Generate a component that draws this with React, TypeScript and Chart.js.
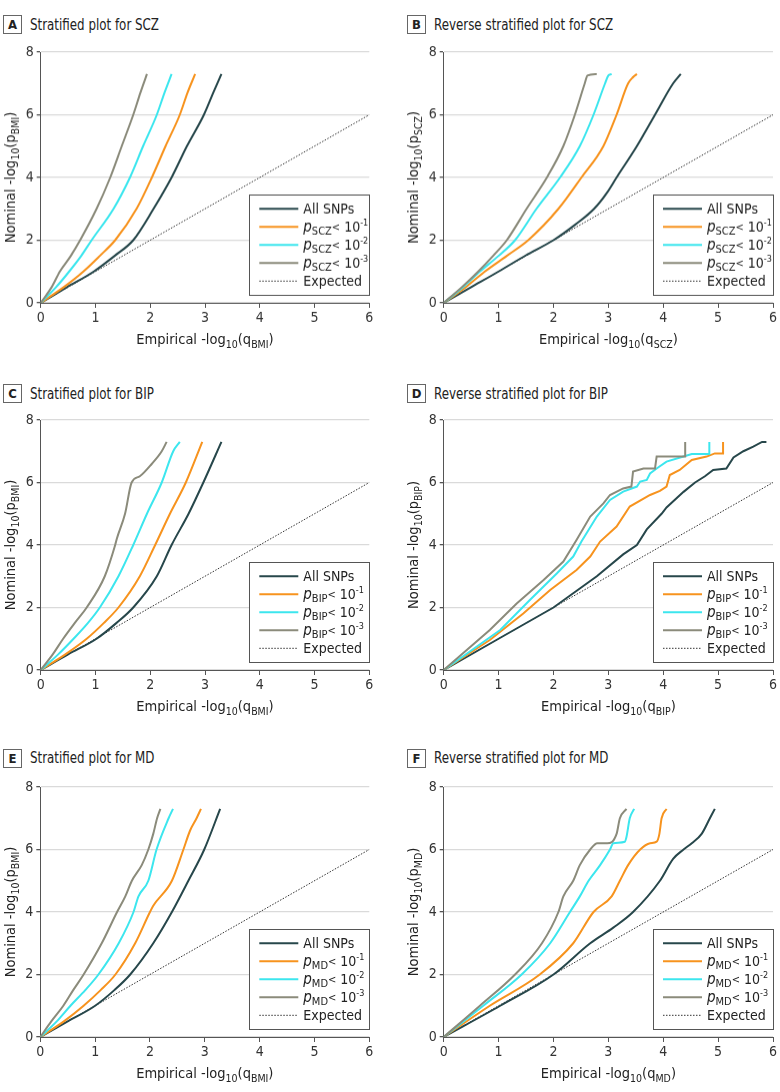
import React, { useEffect, useRef } from "react";
import { Chart, registerables } from "chart.js";

Chart.register(...registerables);

const FONT = "'Liberation Sans Narrow', 'DejaVu Sans Condensed', Lato, 'Noto Sans', sans-serif";

// ---------- data: [empirical -log10(q), nominal -log10(p)] ----------
type Pt = [number, number];

const A_ALL: Pt[] = [[0,0],[0.48,0.5],[0.97,1],[1.35,1.5],[1.69,2],[2.06,3],[2.39,4],[2.67,5],[2.98,6],[3.15,6.7],[3.30,7.3]];
const A_P1: Pt[] = [[0,0],[0.42,0.5],[0.78,1],[1.08,1.5],[1.36,2],[1.75,3],[2.03,4],[2.28,5],[2.54,6],[2.68,6.7],[2.82,7.3]];
const A_P2: Pt[] = [[0,0],[0.28,0.5],[0.52,1],[0.74,1.5],[0.93,2],[1.33,3],[1.63,4],[1.87,5],[2.12,6],[2.26,6.7],[2.39,7.3]];
const A_P3: Pt[] = [[0,0],[0.2,0.5],[0.35,1],[0.55,1.5],[0.72,2],[1.02,3],[1.27,4],[1.48,5],[1.69,6],[1.82,6.7],[1.94,7.3]];

const B_ALL: Pt[] = [[0,0],[0.5,0.5],[1,1],[1.5,1.52],[2.0,2.0],[2.4,2.5],[2.74,3],[2.97,3.5],[3.15,4],[3.52,5],[3.85,6],[4.18,7],[4.32,7.3]];
const B_P1: Pt[] = [[0,0],[0.4,0.5],[0.75,1],[1.15,1.5],[1.54,2],[2.09,3],[2.51,4],[2.91,5],[3.15,6],[3.36,7],[3.45,7.2],[3.52,7.3]];
const B_P2: Pt[] = [[0,0],[0.35,0.5],[0.66,1],[1.0,1.5],[1.30,2],[1.69,3],[2.12,4],[2.48,5],[2.73,6],[2.94,7],[3.0,7.25],[3.06,7.3]];
const B_P3: Pt[] = [[0,0],[0.33,0.5],[0.63,1],[0.9,1.5],[1.15,2],[1.51,3],[1.88,4],[2.18,5],[2.39,6],[2.57,7],[2.62,7.25],[2.79,7.3]];

const C_ALL: Pt[] = [[0,0],[0.5,0.5],[1.02,1],[1.38,1.5],[1.69,2],[2.12,3],[2.39,4],[2.70,5],[2.97,6],[3.30,7.3]];
const C_P1: Pt[] = [[0,0],[0.45,0.5],[0.84,1],[1.15,1.5],[1.42,2],[1.81,3],[2.09,4],[2.36,5],[2.65,6],[2.95,7.3]];
const C_P2: Pt[] = [[0,0],[0.32,0.5],[0.60,1],[0.86,1.5],[1.08,2],[1.42,3],[1.69,4],[1.94,5],[2.21,6],[2.42,7],[2.54,7.3]];
const C_P3: Pt[] = [[0,0],[0.22,0.5],[0.41,1],[0.62,1.5],[0.84,2],[1.17,3],[1.36,4],[1.39,4.2],[1.54,5],[1.66,6],[1.81,6.2],[2.03,6.6],[2.21,7],[2.30,7.3]];

const D_ALL: Pt[] = [[0,0],[1,1],[2,2],[2.79,3],[3.27,3.7],[3.52,4],[3.70,4.5],[3.97,5],[4.06,5.2],[4.37,5.7],[4.58,6.0],[4.76,6.2],[4.91,6.4],[5.15,6.45],[5.28,6.8],[5.46,7.0],[5.64,7.15],[5.80,7.3],[5.88,7.3]];
const D_P1: Pt[] = [[0,0],[0.84,0.96],[1.45,1.81],[1.94,2.56],[2.42,3.2],[2.67,3.63],[2.85,4.11],[3.15,4.59],[3.39,5.23],[3.76,5.6],[3.94,5.73],[4.06,5.87],[4.12,6.24],[4.30,6.40],[4.52,6.72],[4.79,6.83],[4.94,6.93],[5.09,6.93],[5.09,7.3]];
const D_P2: Pt[] = [[0,0],[1.03,1.28],[1.57,2.24],[2.06,3.09],[2.36,3.63],[2.51,4.11],[2.79,4.91],[3.03,5.44],[3.27,5.71],[3.52,5.87],[3.58,6.03],[3.70,6.08],[3.76,6.29],[3.88,6.45],[4.06,6.67],[4.37,6.83],[4.52,6.91],[4.84,6.91],[4.84,7.3]];
const D_P3: Pt[] = [[0,0],[0.84,1.28],[1.33,2.13],[1.82,2.88],[2.18,3.47],[2.42,4.16],[2.67,4.91],[2.91,5.33],[3.03,5.6],[3.27,5.81],[3.42,5.87],[3.45,6.35],[3.64,6.45],[3.85,6.45],[3.88,6.83],[4.40,6.83],[4.40,7.3]];

const E_ALL: Pt[] = [[0,0],[0.5,0.5],[1.0,1],[1.35,1.5],[1.64,2],[2.06,3],[2.40,4],[2.70,5],[2.99,6],[3.28,7.3]];
const E_P1: Pt[] = [[0,0],[0.43,0.5],[0.79,1],[1.1,1.5],[1.37,2],[1.73,3],[2.0,4],[2.06,4.2],[2.40,5],[2.61,6],[2.73,6.6],[2.85,7],[2.93,7.3]];
const E_P2: Pt[] = [[0,0],[0.3,0.5],[0.55,1],[0.82,1.5],[1.06,2],[1.43,3],[1.70,4],[1.79,4.5],[1.97,5],[2.12,6],[2.34,7],[2.42,7.3]];
const E_P3: Pt[] = [[0,0],[0.2,0.5],[0.42,1],[0.6,1.5],[0.79,2],[1.12,3],[1.40,4],[1.55,4.5],[1.67,5],[1.85,5.5],[1.97,6],[2.06,6.5],[2.13,7],[2.19,7.3]];

const F_ALL: Pt[] = [[0,0],[1.03,1],[2.0,2],[2.67,3],[3.09,3.5],[3.45,4],[3.94,5],[4.18,5.7],[4.37,6],[4.52,6.2],[4.70,6.5],[4.85,7],[4.94,7.3]];
const F_P1: Pt[] = [[0,0],[0.84,1],[1.75,2],[2.36,3],[2.73,4],[3.06,4.5],[3.21,5],[3.36,5.5],[3.58,6],[3.76,6.2],[3.88,6.25],[3.93,6.5],[3.97,7],[4.06,7.3]];
const F_P2: Pt[] = [[0,0],[0.72,1],[1.42,2],[1.94,3],[2.30,4],[2.48,4.5],[2.64,5],[2.85,5.5],[3.03,6],[3.09,6.2],[3.30,6.25],[3.33,6.4],[3.39,7],[3.47,7.3]];
const F_P3: Pt[] = [[0,0],[0.66,1],[1.30,2],[1.79,3],[2.09,4],[2.18,4.5],[2.36,5],[2.48,5.5],[2.67,6],[2.80,6.2],[2.98,6.2],[3.15,6.5],[3.21,7],[3.33,7.3]];

const EXPECTED: Pt[] = [[0,0],[6,6]];

const X_TICKS = [0, 1, 2, 3, 4, 5, 6];
const Y_TICKS = [0, 2, 4, 6, 8];

const PANEL_LETTERS = ["A", "B", "C", "D", "E", "F"];
const PANEL_TITLES = [
  "Stratified plot for SCZ",
  "Reverse stratified plot for SCZ",
  "Stratified plot for BIP",
  "Reverse stratified plot for BIP",
  "Stratified plot for MD",
  "Reverse stratified plot for MD",
];
const X_SUBS = ["BMI", "SCZ", "BMI", "BIP", "BMI", "MD"];
const Y_SUBS = ["BMI", "SCZ", "BMI", "BIP", "BMI", "MD"];
const LEGEND_SUBS = ["SCZ", "SCZ", "BIP", "BIP", "MD", "MD"];
const PANEL_SERIES: Pt[][][] = [
  [A_ALL, A_P1, A_P2, A_P3],
  [B_ALL, B_P1, B_P2, B_P3],
  [C_ALL, C_P1, C_P2, C_P3],
  [D_ALL, D_P1, D_P2, D_P3],
  [E_ALL, E_P1, E_P2, E_P3],
  [F_ALL, F_P1, F_P2, F_P3],
];
const STEPPED = [false, false, false, true, false, false];
const EXPONENTS = ["-1", "-2", "-3"];

// ---------- styles / layout ----------
const COLORS = ["#27474b", "#f7931e", "#3ce6ee", "#8b8b7b"];
const LAYOUT = [
  { col: 0, plotL: 40.7, plotR: 369.3, plotT: 52.3, plotB: 302.7, titleX: 3, titleY: 24.5 },
  { col: 390, plotL: 443.7, plotR: 773, plotT: 52.3, plotB: 302.7, titleX: 407, titleY: 24.5 },
  { col: 0, plotL: 40.7, plotR: 369.3, plotT: 420, plotB: 670, titleX: 3, titleY: 393.5 },
  { col: 390, plotL: 443.7, plotR: 773, plotT: 420, plotB: 670, titleX: 407, titleY: 393.5 },
  { col: 0, plotL: 40.3, plotR: 369.3, plotT: 787, plotB: 1037, titleX: 3, titleY: 758 },
  { col: 390, plotL: 443.7, plotR: 773, plotT: 787, plotB: 1037, titleX: 407, titleY: 758 },
];
const CANVAS_W = 390;
const TOP_PAD = 15;
const X_AXIS_H = 50;

type Piece = { t: string; size: number; dy?: number; italic?: boolean };

function font(p: Piece) {
  return `${p.italic ? "italic " : ""}${p.size}px ${FONT}`;
}

function drawRich(ctx: CanvasRenderingContext2D, pieces: Piece[], x: number, y: number, align: "left" | "center") {
  let total = 0;
  const widths = pieces.map((p) => {
    ctx.font = font(p);
    const w = ctx.measureText(p.t).width;
    total += w;
    return w;
  });
  let cx = align === "center" ? x - total / 2 : x;
  ctx.textAlign = "left";
  ctx.textBaseline = "alphabetic";
  pieces.forEach((p, i) => {
    ctx.font = font(p);
    ctx.fillText(p.t, cx, y + (p.dy || 0));
    cx += widths[i];
  });
}

function Panel({ idx }: { idx: number }) {
  const ref = useRef<HTMLCanvasElement | null>(null);
  const lay = LAYOUT[idx];
  const canvasH = TOP_PAD + (lay.plotB - lay.plotT) + X_AXIS_H;

  useEffect(() => {
    if (!ref.current) return;
    const series = PANEL_SERIES[idx];
    const names = ["All SNPs", "p<1", "p<2", "p<3"];
    const datasets: any[] = series.map((s, i) => ({
      label: names[i],
      data: s.map(([x, y]) => ({ x, y })),
      borderColor: COLORS[i],
      backgroundColor: COLORS[i],
      borderWidth: 2,
      pointRadius: 0,
      tension: 0,
      cubicInterpolationMode: STEPPED[idx] ? "default" : "monotone",
      fill: false,
      order: 4 - i,
    }));
    datasets.push({
      label: "Expected",
      data: EXPECTED.map(([x, y]) => ({ x, y })),
      borderColor: "#333",
      borderWidth: 1,
      borderDash: [1.5, 1.5],
      pointRadius: 0,
      fill: false,
      order: 10,
    });

    const overlay = {
      id: "overlay",
      afterDraw(chart: any) {
        const ctx: CanvasRenderingContext2D = chart.ctx;
        const ca = chart.chartArea;
        ctx.save();
        ctx.fillStyle = "#222";
        // x-axis title
        drawRich(ctx, [
          { t: "Empirical -log", size: 14.5 },
          { t: "10", size: 10.5, dy: 4 },
          { t: "(q", size: 14.5 },
          { t: X_SUBS[idx], size: 10.5, dy: 4 },
          { t: ")", size: 14.5 },
        ], (ca.left + ca.right) / 2, ca.bottom + 41, "center");
        // y-axis title
        ctx.save();
        ctx.translate(ca.left - 25.5, (ca.top + ca.bottom) / 2);
        ctx.rotate(-Math.PI / 2);
        drawRich(ctx, [
          { t: "Nominal -log", size: 14.5 },
          { t: "10", size: 10.5, dy: 4 },
          { t: "(p", size: 14.5 },
          { t: Y_SUBS[idx], size: 10.5, dy: 4 },
          { t: ")", size: 14.5 },
        ], 0, 0, "center");
        ctx.restore();

        // legend
        const bw = 120, bh = 100;
        const bl = ca.right - bw, bt = ca.bottom - 8.4 - bh;
        ctx.fillStyle = "#fff";
        ctx.fillRect(bl, bt, bw, bh);
        ctx.strokeStyle = "#555";
        ctx.lineWidth = 1;
        ctx.strokeRect(Math.round(bl) + 0.5, Math.round(bt) + 0.5, bw, bh);
        for (let i = 0; i < 5; i++) {
          const ry = bt + 14.7 + 18 * i;
          ctx.beginPath();
          ctx.moveTo(bl + 10, ry);
          ctx.lineTo(bl + 49, ry);
          if (i < 4) {
            ctx.strokeStyle = COLORS[i];
            ctx.lineWidth = 2;
            ctx.setLineDash([]);
          } else {
            ctx.strokeStyle = "#333";
            ctx.lineWidth = 1;
            ctx.setLineDash([1.5, 1.5]);
          }
          ctx.stroke();
          ctx.setLineDash([]);
          ctx.fillStyle = "#222";
          const tx = bl + 54, ty = ry + 5;
          if (i === 0) {
            drawRich(ctx, [{ t: "All SNPs", size: 14 }], tx, ty, "left");
          } else if (i === 4) {
            drawRich(ctx, [{ t: "Expected", size: 14 }], tx, ty, "left");
          } else {
            drawRich(ctx, [
              { t: "p", size: 15, italic: true },
              { t: LEGEND_SUBS[idx], size: 11, dy: 3 },
              { t: "<", size: 11, dy: -1 },
              { t: " 10", size: 14 },
              { t: EXPONENTS[i - 1], size: 9, dy: -6 },
            ], tx, ty, "left");
          }
        }
        ctx.restore();
      },
    };

    const chart = new Chart(ref.current, {
      type: "line",
      data: { datasets },
      options: {
        responsive: false,
        animation: false,
        devicePixelRatio: 1,
        layout: { padding: { top: TOP_PAD, right: lay.col + CANVAS_W - lay.plotR, left: 0, bottom: 0 } },
        plugins: { legend: { display: false }, tooltip: { enabled: false } },
        scales: {
          x: {
            type: "linear",
            min: 0,
            max: 6,
            afterFit: (s: any) => { s.height = X_AXIS_H; },
            afterBuildTicks: (s: any) => { s.ticks = X_TICKS.map((v) => ({ value: v })); },
            grid: { drawOnChartArea: false, drawTicks: true, tickLength: 5, tickColor: "#555", color: "#555" },
            border: { color: "#555", width: 1 },
            ticks: { padding: 2, maxRotation: 0, color: "#333", font: { family: FONT, size: 14 } },
          },
          y: {
            type: "linear",
            min: 0,
            max: 8,
            afterFit: (s: any) => { s.width = lay.plotL - lay.col; },
            afterBuildTicks: (s: any) => { s.ticks = Y_TICKS.map((v) => ({ value: v })); },
            grid: { color: "#dadada", lineWidth: 1.3, drawTicks: true, tickLength: 4, tickColor: "#555" },
            border: { color: "#555", width: 1 },
            ticks: { padding: 3, color: "#333", font: { family: FONT, size: 14 } },
          },
        },
      } as any,
      plugins: [overlay],
    });
    return () => chart.destroy();
  }, [idx]);

  return (
    <>
      <div
        style={{
          position: "absolute",
          left: lay.titleX,
          top: lay.titleY - 10,
          height: 20,
          display: "flex",
          alignItems: "center",
          fontFamily: FONT,
          whiteSpace: "nowrap",
          color: "#222",
        }}
      >
        <span
          style={{
            display: "inline-flex",
            alignItems: "center",
            justifyContent: "center",
            boxSizing: "border-box",
            width: 19,
            height: 19,
            border: "1px solid #666",
            fontWeight: 700,
            fontSize: 13,
          }}
        >
          {PANEL_LETTERS[idx]}
        </span>
        <span
          style={{
            marginLeft: 8,
            fontSize: 15,
            display: "inline-block",
            transform: "scaleX(0.88)",
            transformOrigin: "left center",
          }}
        >
          {PANEL_TITLES[idx]}
        </span>
      </div>
      <canvas
        ref={ref}
        width={CANVAS_W}
        height={canvasH}
        style={{ position: "absolute", left: lay.col, top: lay.plotT - TOP_PAD, width: CANVAS_W, height: canvasH }}
      />
    </>
  );
}

export default function App() {
  return (
    <div style={{ position: "absolute", left: 0, top: 0, width: 780, height: 1092, background: "#fff", overflow: "hidden" }}>
      {PANEL_LETTERS.map((_, i) => (
        <Panel key={i} idx={i} />
      ))}
    </div>
  );
}
